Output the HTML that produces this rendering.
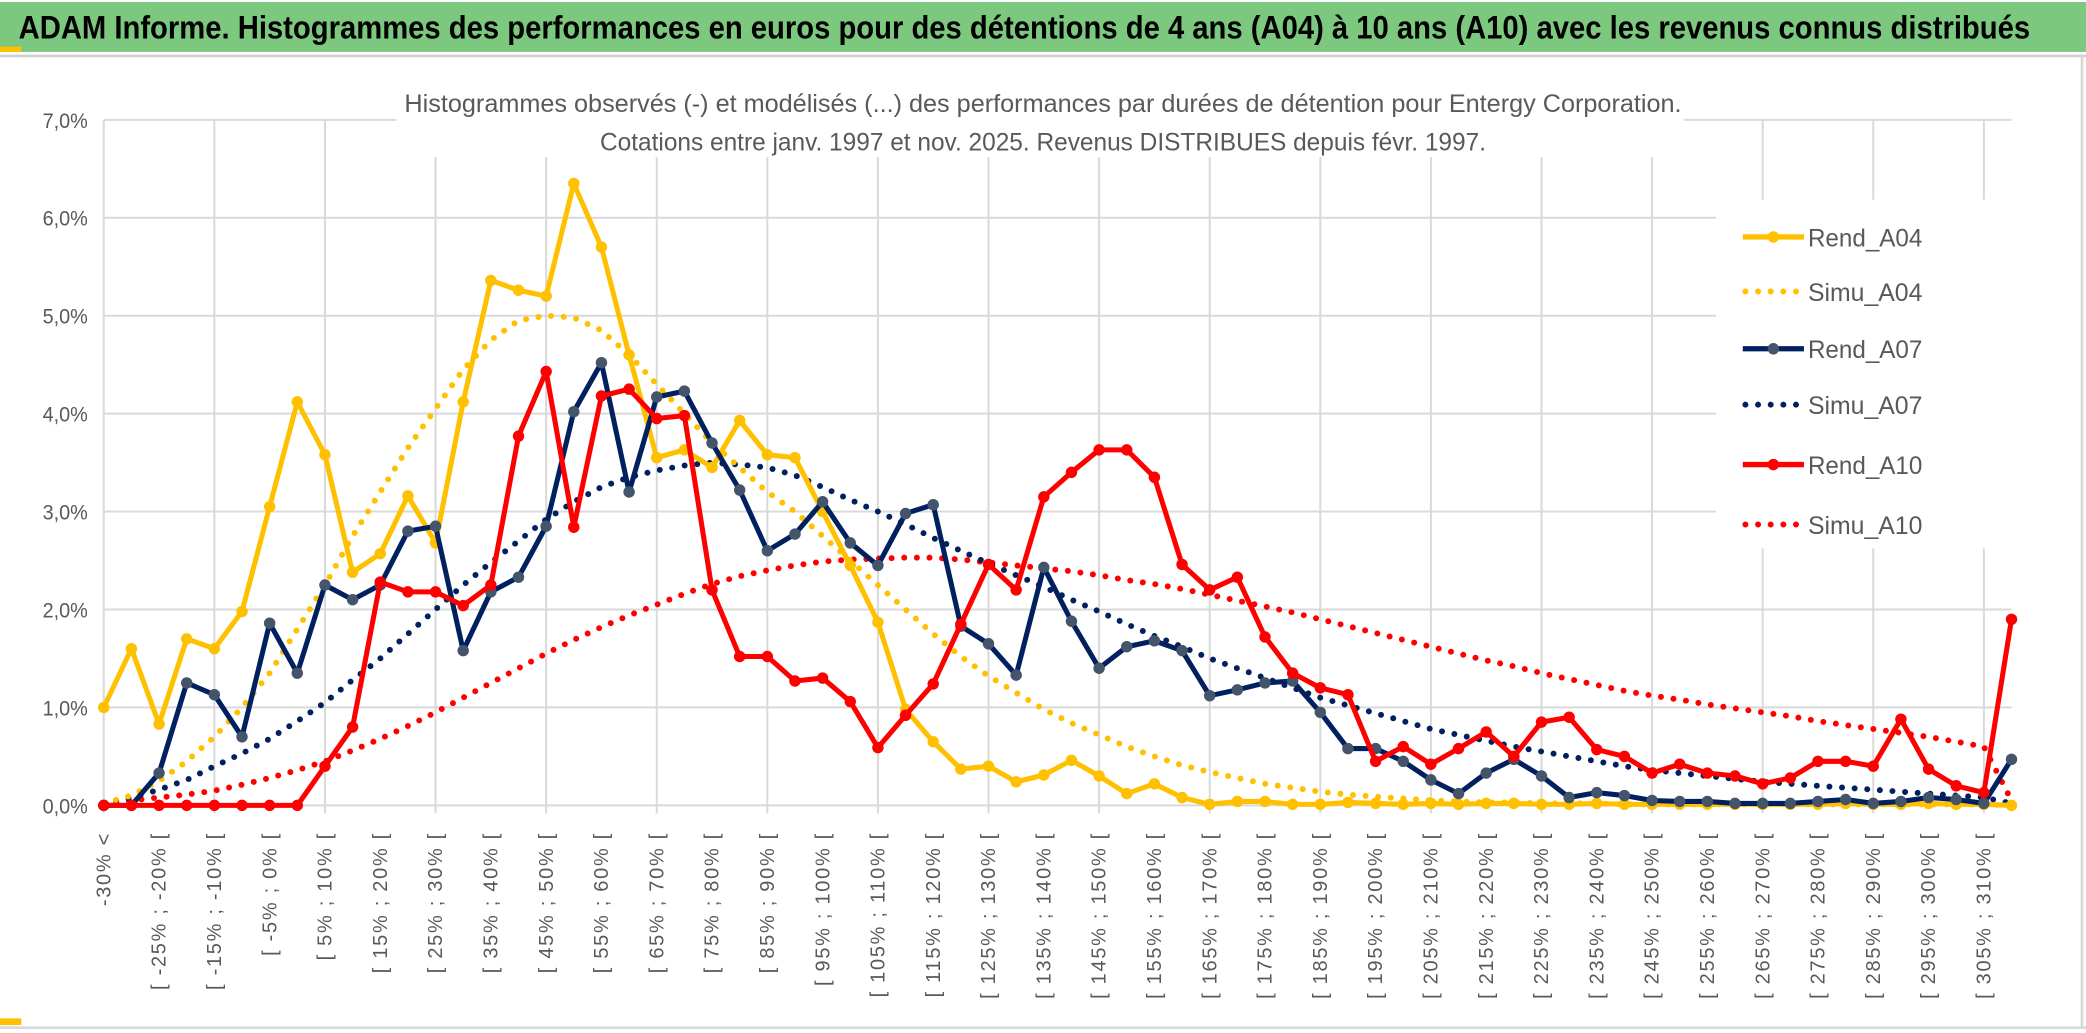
<!DOCTYPE html>
<html><head><meta charset="utf-8">
<style>
html,body{margin:0;padding:0;background:#fff;}
svg{display:block;}
text{font-family:"Liberation Sans",sans-serif;}
</style></head>
<body>
<svg id="chart" width="2086" height="1033" viewBox="0 0 1568 776" preserveAspectRatio="none" xmlns="http://www.w3.org/2000/svg">
<rect x="0" y="0" width="1568" height="776" fill="#fff"/>
<rect x="0" y="1.5" width="1568" height="37.5" fill="#7dc87f"/>
<text x="14" y="29" font-size="24" font-weight="bold" fill="#000" textLength="1512" lengthAdjust="spacingAndGlyphs">ADAM Informe. Histogrammes des performances en euros pour des détentions de 4 ans (A04) à 10 ans (A10) avec les revenus connus distribués</text>
<line x1="0" y1="42" x2="1568" y2="42" stroke="#d0d0d0" stroke-width="2"/>
<rect x="0" y="35" width="16" height="4" fill="#ffc000"/>
<rect x="0" y="765" width="16" height="5" fill="#ffc000"/>
<line x1="0" y1="772" x2="1568" y2="772" stroke="#d9d9d9" stroke-width="2"/>
<line x1="1565" y1="42" x2="1565" y2="772" stroke="#d9d9d9" stroke-width="2"/>
<g id="grid"></g>
<rect x="298" y="60" width="968" height="58" fill="#fff"/>
<text x="784" y="84" font-size="19" fill="#595959" text-anchor="middle" textLength="960" lengthAdjust="spacingAndGlyphs">Histogrammes observés (-) et modélisés (...) des performances par durées de détention pour Entergy Corporation.</text>
<text x="784" y="113" font-size="19" fill="#595959" text-anchor="middle" textLength="666" lengthAdjust="spacingAndGlyphs">Cotations entre janv. 1997 et nov. 2025. Revenus DISTRIBUES depuis févr. 1997.</text>
<g id="yaxis"></g>
<g id="xaxis"></g>
<g id="series"></g>
<rect x="1290" y="150" width="225" height="262" fill="#fff"/>
<g id="legend"></g>
</svg>
<script>
const categoryCount = 70;
const yTicks = [0,1,2,3,4,5,6,7];
const rendA04 = [1.0,1.6,0.83,1.7,1.6,1.98,3.05,4.12,3.58,2.38,2.57,3.16,2.68,4.12,5.36,5.26,5.2,6.35,5.7,4.6,3.55,3.63,3.45,3.93,3.58,3.55,3.0,2.45,1.87,0.98,0.65,0.37,0.4,0.24,0.31,0.46,0.3,0.12,0.22,0.08,0.01,0.04,0.04,0.01,0.01,0.03,0.02,0.01,0.02,0.01,0.02,0.02,0.01,0.01,0.02,0.01,0.01,0.01,0.01,0.01,0.01,0.01,0.01,0.02,0.01,0.01,0.02,0.01,0.01,0.0];
const simuA04 = [0.02,0.1,0.25,0.45,0.7,1.0,1.35,1.8,2.25,2.75,3.2,3.65,4.05,4.45,4.75,4.95,5.0,4.98,4.85,4.6,4.3,4.0,3.7,3.45,3.2,3.0,2.75,2.5,2.25,2.0,1.75,1.52,1.32,1.15,0.98,0.84,0.72,0.6,0.5,0.41,0.34,0.28,0.22,0.18,0.14,0.11,0.09,0.07,0.05,0.04,0.03,0.03,0.02,0.02,0.02,0.01,0.01,0.01,0.01,0.01,0.01,0.01,0.01,0.01,0.01,0.01,0.01,0.01,0.01,0.0];
const rendA07 = [0,0,0.33,1.25,1.13,0.7,1.86,1.35,2.25,2.1,2.25,2.8,2.85,1.58,2.18,2.33,2.85,4.02,4.52,3.2,4.17,4.23,3.7,3.22,2.6,2.77,3.1,2.68,2.45,2.98,3.07,1.83,1.65,1.33,2.43,1.88,1.4,1.62,1.68,1.58,1.12,1.18,1.25,1.27,0.95,0.58,0.58,0.45,0.26,0.12,0.33,0.47,0.3,0.08,0.13,0.1,0.05,0.04,0.04,0.02,0.02,0.02,0.04,0.06,0.02,0.04,0.08,0.06,0.02,0.47];
const simuA07 = [0.02,0.08,0.16,0.26,0.4,0.53,0.68,0.86,1.05,1.28,1.5,1.75,2.0,2.25,2.48,2.7,2.92,3.1,3.25,3.35,3.42,3.47,3.5,3.48,3.45,3.37,3.25,3.12,3.0,2.87,2.73,2.6,2.47,2.35,2.23,2.1,1.98,1.85,1.73,1.62,1.5,1.4,1.3,1.2,1.1,1.02,0.94,0.86,0.78,0.72,0.66,0.6,0.55,0.5,0.45,0.4,0.36,0.33,0.3,0.27,0.24,0.22,0.2,0.18,0.16,0.14,0.12,0.1,0.08,0.02];
const rendA10 = [0,0,0,0,0,0,0,0,0.4,0.8,2.28,2.18,2.18,2.04,2.25,3.77,4.43,2.84,4.18,4.25,3.95,3.98,2.2,1.52,1.52,1.27,1.3,1.06,0.59,0.92,1.24,1.85,2.46,2.2,3.15,3.4,3.63,3.63,3.35,2.46,2.2,2.33,1.72,1.35,1.2,1.13,0.45,0.6,0.42,0.58,0.75,0.5,0.85,0.9,0.57,0.5,0.33,0.42,0.33,0.3,0.22,0.28,0.45,0.45,0.4,0.88,0.37,0.2,0.13,1.9];
const simuA10 = [0.02,0.05,0.08,0.11,0.15,0.21,0.28,0.36,0.45,0.56,0.68,0.81,0.95,1.1,1.25,1.4,1.55,1.69,1.82,1.94,2.05,2.16,2.26,2.34,2.4,2.45,2.49,2.51,2.52,2.53,2.53,2.51,2.48,2.45,2.42,2.39,2.35,2.3,2.26,2.21,2.15,2.09,2.03,1.97,1.9,1.83,1.76,1.69,1.62,1.55,1.48,1.42,1.35,1.29,1.23,1.17,1.12,1.08,1.03,0.99,0.95,0.91,0.86,0.82,0.78,0.74,0.7,0.65,0.6,0.05];

const NS = "http://www.w3.org/2000/svg";
const X0 = 78, X1 = 1512, Y0 = 605, PER = 73.57;
function xPos(i){ return X0 + i*(X1-X0)/(categoryCount-1); }
function yPos(v){ return Y0 - v*PER; }
function mk(tag, attrs, parent){
  const el = document.createElementNS(NS, tag);
  for (const k in attrs) el.setAttribute(k, attrs[k]);
  parent.appendChild(el);
  return el;
}
function catLabel(i){
  if (i === 0) return "-30% <";
  const a = -30 + 5*(i-1), b = a + 5;
  return "[ " + a + "% ; " + b + "% [";
}
const grid = document.getElementById('grid');
yTicks.forEach(t => {
  const l = mk('line', {x1:X0, x2:X1, y1:yPos(t), y2:yPos(t), stroke:'#d9d9d9', 'stroke-width':1.5}, grid);
  
  
});
for (let i = 0; i < categoryCount; i += 4) {
  const l = mk('line', {x1:xPos(i), x2:xPos(i), y1:yPos(7), y2:Y0+6, stroke:'#d9d9d9', 'stroke-width':1.5}, grid);
  
  
}
const yaxis = document.getElementById('yaxis');
yTicks.forEach(t => {
  const tx = mk('text', {x:66, y:yPos(t)+6, 'font-size':16, fill:'#595959', 'text-anchor':'end', textLength:34, lengthAdjust:'spacingAndGlyphs'}, yaxis);
  tx.textContent = t.toFixed(1).replace('.', ',') + '%';
  
  
});
const xaxis = document.getElementById('xaxis');
for (let i = 0; i < categoryCount; i += 2) {
  const x = xPos(i) + 5, y = 625;
  const tx = mk('text', {x:x, y:y, 'font-size':15, fill:'#595959', 'text-anchor':'end', 'letter-spacing':'1.3', transform:'rotate(-90 '+x+' '+y+')'}, xaxis);
  tx.textContent = catLabel(i);
  
  
}
const series = document.getElementById('series');
function pts(arr){ return arr.map((v,i) => xPos(i).toFixed(2)+','+yPos(v).toFixed(2)).join(' '); }
function dotted(arr, color, name){
  const p = mk('polyline', {points:pts(arr), fill:'none', stroke:color, 'stroke-width':4.5, 'stroke-linecap':'round', 'stroke-dasharray':'0 9.5'}, series);
  
  
}
function solid(arr, color, mcolor, name){
  const g = mk('g', {}, series);
  
  
  mk('polyline', {points:pts(arr), fill:'none', stroke:color, 'stroke-width':3.8, 'stroke-linejoin':'round'}, g);
  arr.forEach((v,i) => {
    const c = mk('circle', {cx:xPos(i), cy:yPos(v), r:4.3, fill:mcolor}, g);
    
    
  });
}
dotted(simuA10, '#ff0000', 'simu-a10-line');
dotted(simuA07, '#002060', 'simu-a07-line');
dotted(simuA04, '#ffc000', 'simu-a04-line');
solid(rendA04, '#ffc000', '#ffc000', 'rend-a04-series');
solid(rendA07, '#002060', '#44546a', 'rend-a07-series');
solid(rendA10, '#ff0000', '#ff0000', 'rend-a10-series');

const legendNames = ['Rend_A04','Simu_A04','Rend_A07','Simu_A07','Rend_A10','Simu_A10'];
const legendColors = ['#ffc000','#ffc000','#002060','#002060','#ff0000','#ff0000'];
const legendY = [178,219,262,304,349,394];
const legend = document.getElementById('legend');
legendNames.forEach((n,k) => {
  const g = mk('g', {}, legend);
  
  
  const y = legendY[k];
  if (k % 2 === 0) {
    mk('line', {x1:1310, x2:1356, y1:y, y2:y, stroke:legendColors[k], 'stroke-width':4}, g);
    mk('circle', {cx:1333, cy:y, r:4.3, fill: k===2 ? '#44546a' : legendColors[k]}, g);
  } else {
    mk('line', {x1:1312, x2:1356, y1:y, y2:y, stroke:legendColors[k], 'stroke-width':4.5, 'stroke-linecap':'round', 'stroke-dasharray':'0 9.5'}, g);
  }
  const t = mk('text', {x:1359, y:y+7, 'font-size':19, fill:'#595959', textLength:86, lengthAdjust:'spacingAndGlyphs'}, g);
  t.textContent = n;
});
</script>
</body></html>
